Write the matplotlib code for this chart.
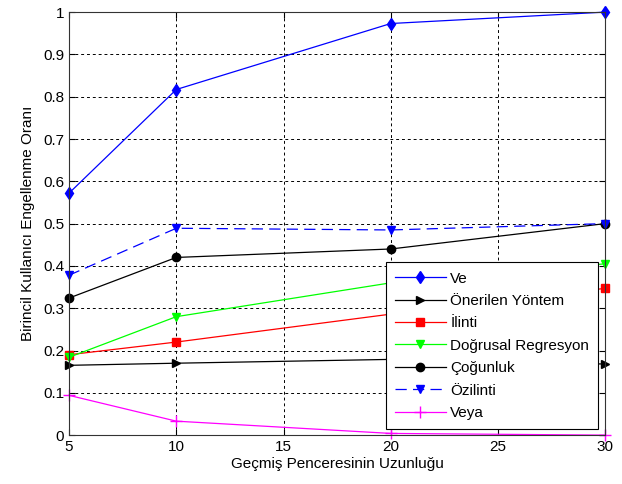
import matplotlib.pyplot as plt

plt.rcParams['font.family'] = ['Liberation Sans', 'DejaVu Sans']

x = [5, 10, 20, 30]
ve = [0.572, 0.817, 0.973, 1.0]
onerilen = [0.165, 0.170, 0.179, 0.168]
ilinti = [0.190, 0.220, 0.286, 0.347]
dogrusal = [0.184, 0.280, 0.360, 0.405]
cogunluk = [0.324, 0.420, 0.440, 0.500]
ozilinti = [0.378, 0.489, 0.485, 0.500]
veya = [0.094, 0.033, 0.004, 0.0]

fig = plt.figure(figsize=(6.22, 4.84), dpi=100)
ax = fig.add_axes([0.111, 0.101, 0.862, 0.874])

kw = dict(lw=0.9, ms=6, clip_on=False)
ax.plot(x, ve, color="#0000ff", marker="d", label="Ve", **kw)
ax.plot(x, onerilen, color="black", marker=">", label="Önerilen Yöntem", **kw)
ax.plot(x, ilinti, color="#ff0000", marker="s", label="İlinti", **kw)
ax.plot(x, dogrusal, color="#00ff00", marker="v", label="Doğrusal Regresyon", **kw)
ax.plot(x, cogunluk, color="black", marker="o", label="Çoğunluk", **kw)
ax.plot(x, ozilinti, color="#0000ff", marker="v", ls=(0, (9, 5)), label="Özilinti", **kw)
ax.plot(x, veya, color="#ff00ff", marker="+", label="Veya", lw=0.9, ms=9, mew=1, clip_on=False)

ax.set_xlim(5, 30)
ax.set_ylim(0, 1)
ax.set_xticks([5, 10, 15, 20, 25, 30])
ax.set_yticks([i / 10 for i in range(11)])
ax.set_yticklabels(["0", "0.1", "0.2", "0.3", "0.4", "0.5", "0.6", "0.7", "0.8", "0.9", "1"])
ax.tick_params(direction="in", labelsize=11, length=4, top=True, right=True)
ax.grid(True, color="black", ls=(0, (3, 3)), lw=0.7)
for s in ax.spines.values():
    s.set_color("#333333")

ax.set_xlabel("Geçmiş Penceresinin Uzunluğu", fontsize=11, labelpad=2)
ax.set_ylabel("Birincil Kullanıcı Engellenme Oranı", fontsize=11, labelpad=6)

leg = ax.legend(loc="lower right", bbox_to_anchor=(0.987, 0.014), fancybox=False,
                framealpha=1, edgecolor="black", fontsize=11, handlelength=3.3,
                labelspacing=0.55, borderpad=0.6, handletextpad=0.3, borderaxespad=0)
leg.get_frame().set_linewidth(0.8)

plt.savefig("out.png", dpi=100)
